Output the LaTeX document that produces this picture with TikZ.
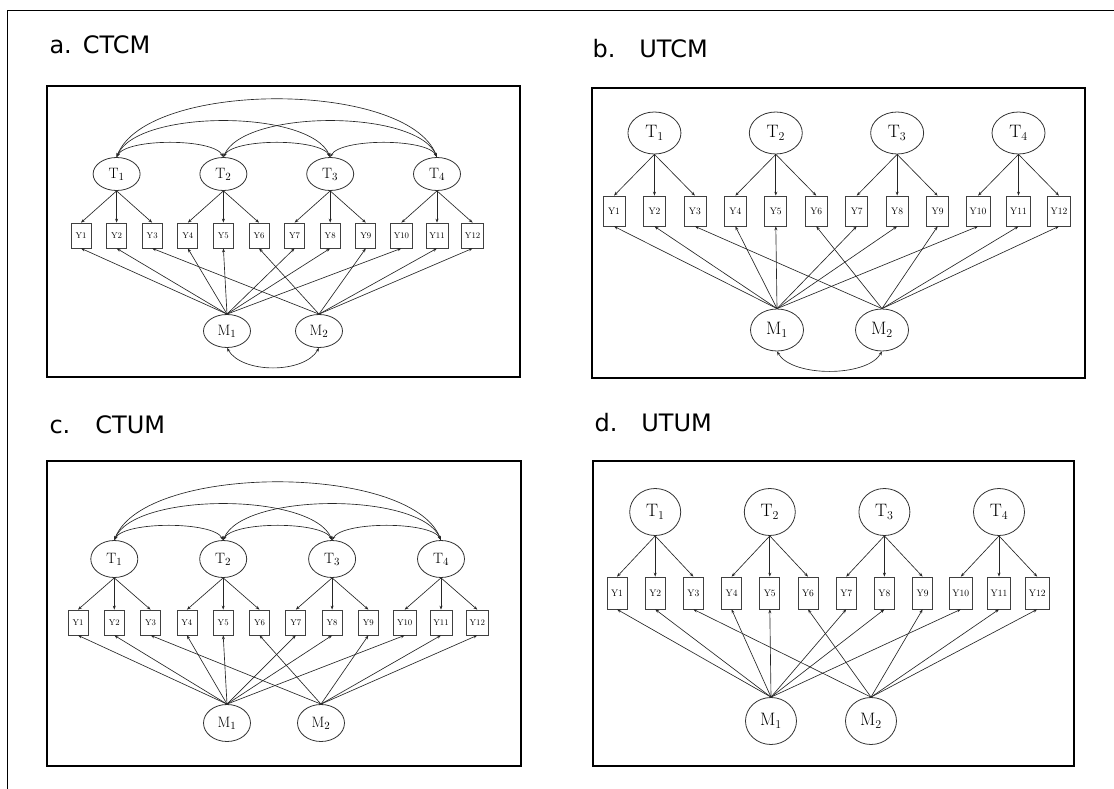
\documentclass[tikz,border=0pt]{standalone}
\usepackage{fontspec}
\newfontfamily\labelfont{DejaVu Sans}
\usetikzlibrary{arrows.meta,shapes.geometric}

% one MTMM model: items, traits, methods and their loadings
% #1 prefix, #2 x of Y1, #3 item spacing, #4 trait row, #5 item row,
% #6 method row, #7 x of M1, #8 x of M2
\newcommand{\mtmmpanel}[8]{%
  \foreach \i in {1,...,12}
    \node[item] (#1Y\i) at ({#2+(\i-1)*#3},#5) {Y\i};
  \foreach \k in {1,...,4}
    \node[trait] (#1T\k) at ({#2+(3*\k-2)*#3},#4) {$\mathrm{T}_{\k}$};
  \node[trait] (#1M1) at (#7,#6) {$\mathrm{M}_1$};
  \node[trait] (#1M2) at (#8,#6) {$\mathrm{M}_2$};
  % trait loadings
  \foreach \k in {1,...,4}
    \foreach \d in {0,1,2} {
      \pgfmathtruncatemacro{\j}{3*\k-\d}
      \draw[load] (#1T\k.south) -- (#1Y\j.north);
    }
  % method loadings
  \foreach \j in {1,2,4,5,7,8,10}
    \draw[load] (#1M1.north) -- (#1Y\j.south);
  \foreach \j in {3,6,9,11,12}
    \draw[load] (#1M2.north) -- (#1Y\j.south);
}

% correlated traits
\newcommand{\traitcov}[1]{%
  \draw[cov] (#1T1.north) .. controls +(10,-19) and +(-10,-19) .. (#1T2.north);
  \draw[cov] (#1T2.north) .. controls +(10,-19) and +(-10,-19) .. (#1T3.north);
  \draw[cov] (#1T3.north) .. controls +(10,-19) and +(-10,-19) .. (#1T4.north);
  \draw[cov] (#1T1.north) .. controls +(20,-48) and +(-20,-48) .. (#1T3.north);
  \draw[cov] (#1T2.north) .. controls +(20,-48) and +(-20,-48) .. (#1T4.north);
  \draw[cov] (#1T1.north) .. controls +(30,-77) and +(-30,-77) .. (#1T4.north);
}

\begin{document}
\begin{tikzpicture}[x=1pt,y=-1pt,
    trait/.style={ellipse,draw=black!80,line width=0.8pt,inner sep=0pt,
      minimum width=47pt,minimum height=33pt,font=\fontsize{15}{15}\selectfont},
    item/.style={draw=black!75,line width=0.7pt,inner xsep=3.5pt,inner ysep=0pt,
      minimum width=20pt,minimum height=25pt,font=\fontsize{8.5}{8.5}\selectfont},
    load/.style={draw=black!85,line width=0.65pt,-{Stealth[length=4pt,width=3pt]}},
    cov/.style={draw=black!85,line width=0.65pt,
      {Stealth[length=4pt,width=3pt]}-{Stealth[length=4pt,width=3pt]}},
    panel/.style={line width=2.2pt},
    title/.style={anchor=base west,font=\labelfont\fontsize{24}{24}\selectfont}]
  \useasboundingbox (0,0) rectangle (1114,789);
  \draw[line width=0.8pt] (7,789) -- (7,10) -- (1114,10);

  % a. CTCM
  \node[title] (ta) at (46,54) {a.\hspace{11pt}CTCM};
  \draw[panel] (47,86) rectangle (520,377);
  \mtmmpanel{a}{81}{35.6}{174}{235.5}{331}{227}{319}
  \traitcov{a}
  \draw[cov] (aM1.south) .. controls +(15,26) and +(-15,26) .. (aM2.south);

  % b. UTCM
  \node[title] (tb) at (589,58) {b.\hspace{24pt}UTCM};
  \draw[panel] (592,88) rectangle (1085,378);
  \begin{scope}[trait/.append style={minimum width=53pt,minimum height=42pt,
      font=\fontsize{18}{18}\selectfont},
    item/.append style={minimum width=22pt,minimum height=30pt,
      font=\fontsize{9.5}{9.5}\selectfont}]
    \mtmmpanel{b}{614}{40.45}{133}{211}{330}{777}{882}
  \end{scope}
  \draw[cov] (bM1.south) .. controls +(15,26) and +(-15,26) .. (bM2.south);

  % c. CTUM
  \node[title] (tc) at (46,433) {c.\hspace{25pt}CTUM};
  \draw[panel] (47,461) rectangle (521,766);
  \begin{scope}[trait/.append style={minimum height=37pt}]
    \mtmmpanel{c}{78}{36.3}{559}{622.5}{723}{227}{321}
  \end{scope}
  \traitcov{c}

  % d. UTUM
  \node[title] (td) at (591,431) {d.\hspace{24pt}UTUM};
  \draw[panel] (593,461) rectangle (1074,766);
  \begin{scope}[trait/.append style={minimum width=51pt,minimum height=47pt,
      font=\fontsize{18}{18}\selectfont},
    item/.append style={minimum width=20pt,minimum height=32pt,
      font=\fontsize{9.5}{9.5}\selectfont}]
    \mtmmpanel{d}{617}{38.2}{512}{593}{721}{771}{871}
  \end{scope}
\end{tikzpicture}
\end{document}
